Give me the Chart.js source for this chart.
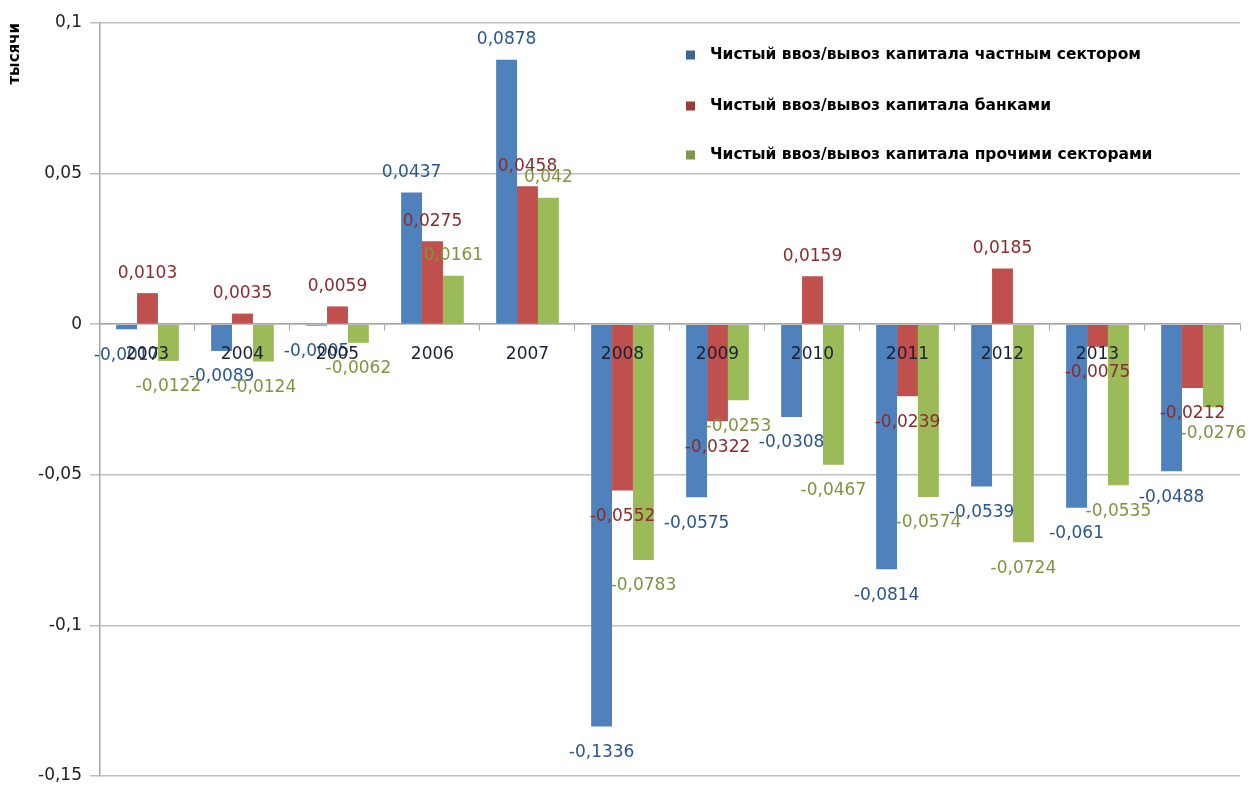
<!DOCTYPE html>
<html>
<head>
<meta charset="utf-8">
<script src="https://cdn.jsdelivr.net/npm/chart.js@4/dist/chart.umd.min.js"></script>
<style>
   html, body { margin: 0; padding: 0; background: #fff; }
   #wrap { width: 1248px; height: 789px; }
</style>
</head>
<body>
<div id="wrap"><canvas id="myChart" width="1248" height="789"></canvas></div>
<script>
// Данные диаграммы
var gYears = ["2003", "2004", "2005", "2006", "2007", "2008", "2009", "2010", "2011", "2012", "2013", ""];
var gPrivate = [-0.0017, -0.0089, -0.0005, 0.0437, 0.0878, -0.1336, -0.0575, -0.0308, -0.0814, -0.0539, -0.061, -0.0488];
var gBanks = [0.0103, 0.0035, 0.0059, 0.0275, 0.0458, -0.0552, -0.0322, 0.0159, -0.0239, 0.0185, -0.0075, -0.0212];
var gOthers = [-0.0122, -0.0124, -0.0062, 0.0161, 0.042, -0.0783, -0.0253, -0.0467, -0.0574, -0.0724, -0.0535, -0.0276];
var gSeriesNames = [
   "Чистый ввоз/вывоз капитала частным сектором",
   "Чистый ввоз/вывоз капитала банками",
   "Чистый ввоз/вывоз капитала прочими секторами",
];
var gYTicks = [0.1, 0.05, 0, -0.05, -0.1, -0.15];

var gBarColors = ["#4f81bd", "#c0504d", "#9bbb59"];
var gLegendColors = ["#3d6591", "#963c3a", "#7d9650"];
var gLabelColors = ["#2a5690", "#8c2b2b", "#7f9440"];
var gFont = "'DejaVu Sans', sans-serif";

function formatComma(v) {
   return String(v).replace(".", ",");
}

//Подписи значений над/под столбиками
var valueLabelPlugin = {
   id: "valueLabels",
   afterDatasetsDraw: function (chart) {
      var ctx = chart.ctx;
      ctx.save();
      ctx.font = "17px " + gFont;
      ctx.textAlign = "center";
      ctx.textBaseline = "middle";
      chart.data.datasets.forEach(function (ds, i) {
         var meta = chart.getDatasetMeta(i);
         meta.data.forEach(function (bar, j) {
            var v = ds.data[j];
            var y = v >= 0 ? bar.y - 20 : bar.y + 26;
            ctx.fillStyle = gLabelColors[i];
            ctx.fillText(formatComma(v), bar.x, y);
         });
      });
      ctx.restore();
   },
};

//Легенда внутри области графика
var legendPlugin = {
   id: "insideLegend",
   afterDraw: function (chart) {
      var ctx = chart.ctx;
      ctx.save();
      ctx.font = "bold 15.5px " + gFont;
      ctx.textBaseline = "middle";
      var rows = [55, 106, 155];
      chart.data.datasets.forEach(function (ds, i) {
         ctx.fillStyle = gLegendColors[i];
         ctx.fillRect(686, rows[i] - 4.5, 9, 9);
         ctx.fillStyle = "#000";
         ctx.fillText(ds.label, 710, rows[i]);
      });
      ctx.restore();
   },
};

var vDatasets = [gPrivate, gBanks, gOthers].map(function (arr, i) {
   return {
      label: gSeriesNames[i],
      data: arr,
      backgroundColor: gBarColors[i],
      borderWidth: 0,
      barPercentage: 1.0,
      categoryPercentage: 0.66,
   };
});

new Chart(document.getElementById("myChart"), {
   type: "bar",
   data: { labels: gYears, datasets: vDatasets },
   options: {
      responsive: false,
      animation: false,
      layout: { padding: { top: 23, right: 8, bottom: -3, left: 6 } },
      plugins: {
         legend: { display: false },
         tooltip: { enabled: false },
      },
      scales: {
         x: {
            position: { y: 0 },
            afterFit: function (scale) {
               scale.height = 0;
            },
            grid: {
               offset: true,
               drawOnChartArea: false,
               tickLength: 6,
               color: "#a6a6a6",
            },
            border: { color: "#a6a6a6", width: 1.5 },
            ticks: {
               z: 1,
               color: "#1a2033",
               padding: 14,
               font: { family: gFont, size: 17 },
            },
         },
         y: {
            min: -0.15,
            max: 0.1,
            afterBuildTicks: function (scale) {
               scale.ticks = gYTicks.map(function (v) {
                  return { value: v };
               });
            },
            grid: {
               color: "#bfbfbf",
               lineWidth: 1.5,
               tickLength: 10,
            },
            border: { color: "#a6a6a6", width: 1.5 },
            ticks: {
               color: "#222",
               padding: 8,
               font: { family: gFont, size: 17, lineHeight: 0.6 },
               callback: function (v) {
                  return formatComma(v);
               },
            },
            title: {
               display: true,
               text: "тысячи",
               align: "end",
               color: "#000",
               font: { family: gFont, size: 15, weight: "bold" },
               padding: { top: 0, bottom: 6 },
            },
         },
      },
   },
   plugins: [valueLabelPlugin, legendPlugin],
});
</script>
</body>
</html>
